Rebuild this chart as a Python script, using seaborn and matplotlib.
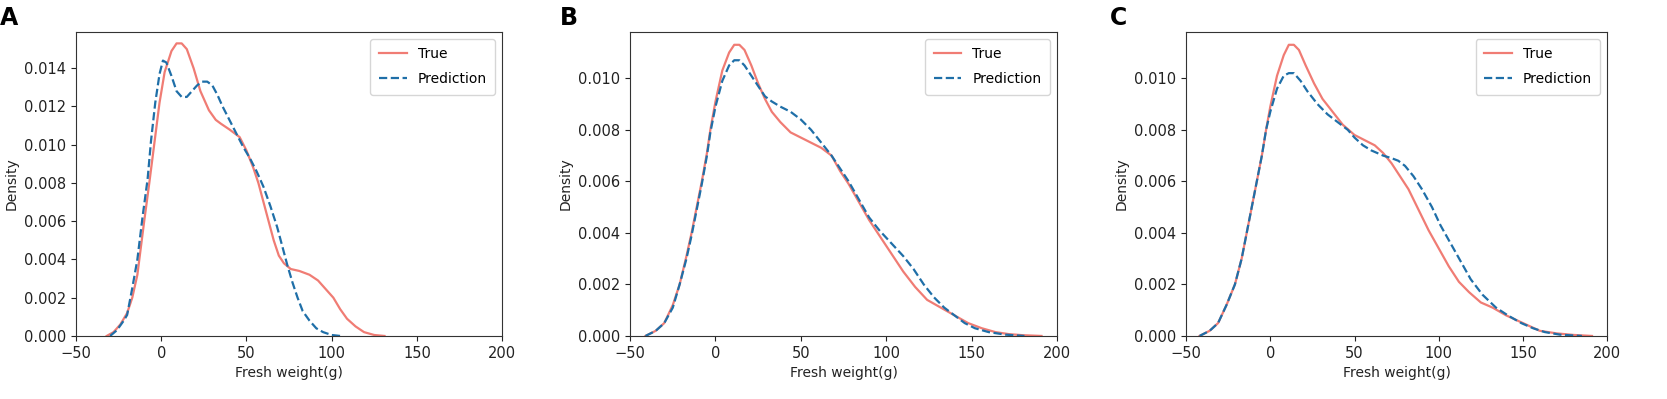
import pandas as pd
import matplotlib.pyplot as plt
import seaborn as sns

# density curves, x = fresh weight (g)
a_true_x = [-32, -28, -24, -20, -17, -14, -10, -7, -4, -1, 2, 6, 9, 12, 15, 19, 23, 28, 32, 35, 40, 46, 50, 54, 57, 60, 63, 66, 69, 72, 76, 81, 87, 92, 96, 101, 105, 109, 114, 119, 125, 131]
a_true_y = [0.0, 0.0002, 0.0006, 0.0012, 0.002, 0.0032, 0.006, 0.008, 0.0101, 0.0122, 0.0138, 0.0149, 0.0153, 0.0153, 0.0150, 0.0140, 0.0128, 0.0118, 0.0113, 0.0111, 0.0108, 0.0104, 0.0097, 0.0088, 0.0080, 0.0070, 0.0060, 0.0050, 0.0042, 0.0038, 0.0035, 0.0034, 0.0032, 0.0029, 0.0025, 0.0020, 0.0014, 0.0009, 0.0005, 0.0002, 0.00005, 0.0]
a_pred_x = [-30, -26, -22, -20, -17, -14, -11, -8, -6, -3.5, -1, 1, 3, 6, 9, 12, 15, 18, 21, 24, 27, 30, 33, 36, 40, 44, 48, 52, 56, 60, 64, 68, 71, 74, 77, 80, 83, 87, 91, 95, 100, 105]
a_pred_y = [0.0, 0.0003, 0.0008, 0.0011, 0.0025, 0.004, 0.0062, 0.0082, 0.0102, 0.0122, 0.0137, 0.0144, 0.0143, 0.0136, 0.0128, 0.0125, 0.0125, 0.0128, 0.0131, 0.0133, 0.0133, 0.0131, 0.0126, 0.0120, 0.0113, 0.0106, 0.0099, 0.0093, 0.0086, 0.0078, 0.0068, 0.0057, 0.0047, 0.0037, 0.0028, 0.0020, 0.0013, 0.0008, 0.0004, 0.0002, 0.00005, 0.0]

b_true_x = [-41, -35, -30, -25, -21, -17, -14, -11, -8, -5, -3, 0, 4, 8, 11, 14, 17, 21, 25, 29, 33, 38, 44, 50, 56, 62, 68, 73, 78, 84, 90, 96, 103, 110, 117, 124, 132, 140, 148, 156, 164, 172, 180, 191]
b_true_y = [0.0, 0.0002, 0.0005, 0.0012, 0.002, 0.0031, 0.004, 0.005, 0.006, 0.0071, 0.008, 0.0091, 0.0103, 0.0110, 0.0113, 0.0113, 0.0111, 0.0105, 0.0098, 0.0092, 0.0087, 0.0083, 0.0079, 0.0077, 0.0075, 0.0073, 0.0070, 0.0064, 0.0059, 0.0052, 0.0045, 0.0039, 0.0032, 0.0025, 0.0019, 0.0014, 0.0011, 0.0008, 0.0005, 0.0003, 0.00015, 0.00007, 0.00003, 0.0]
b_pred_x = [-41, -35, -30, -25, -21, -17, -14, -11, -8, -5, -3, 0, 4, 8, 11, 14, 17, 21, 25, 29, 33, 38, 44, 50, 56, 62, 68, 73, 78, 84, 90, 96, 103, 110, 116, 122, 128, 134, 140, 146, 152, 160, 170, 181]
b_pred_y = [0.0, 0.0002, 0.0005, 0.0011, 0.002, 0.003, 0.0039, 0.0049, 0.0059, 0.007, 0.0079, 0.0089, 0.0099, 0.0105, 0.0107, 0.0107, 0.0105, 0.0101, 0.0097, 0.0093, 0.0091, 0.0089, 0.0087, 0.0084, 0.0080, 0.0075, 0.0070, 0.0065, 0.0060, 0.0053, 0.0046, 0.0041, 0.0036, 0.0031, 0.0026, 0.0020, 0.0015, 0.0011, 0.0008, 0.0005, 0.0003, 0.00015, 0.00005, 0.0]

c_true_x = [-42, -36, -31, -26, -21, -17, -14, -11, -8, -5, -2.5, 0, 4, 8, 11, 14, 17, 21, 26, 31, 37, 43, 50, 56, 62, 67, 72, 77, 82, 88, 94, 100, 106, 112, 118, 125, 132, 140, 150, 160, 170, 180, 191]
c_true_y = [0.0, 0.0002, 0.0005, 0.0012, 0.002, 0.003, 0.004, 0.005, 0.006, 0.007, 0.008, 0.0089, 0.0101, 0.0109, 0.0113, 0.0113, 0.0111, 0.0105, 0.0098, 0.0092, 0.0087, 0.0082, 0.0078, 0.0076, 0.0074, 0.0071, 0.0067, 0.0062, 0.0057, 0.0049, 0.0041, 0.0034, 0.0027, 0.0021, 0.0017, 0.0013, 0.0011, 0.0008, 0.0005, 0.0002, 0.0001, 0.00004, 0.0]
c_pred_x = [-42, -36, -31, -26, -21, -17, -14, -11, -8, -5, -2.5, 0, 4, 8, 11, 14, 18, 22, 28, 34, 40, 46, 50, 55, 60, 67, 72, 76, 80, 85, 90, 96, 101, 107, 113, 119, 126, 134, 141, 149, 156, 163, 172, 185]
c_pred_y = [0.0, 0.0002, 0.0005, 0.0012, 0.002, 0.003, 0.004, 0.005, 0.006, 0.007, 0.008, 0.0087, 0.0096, 0.0101, 0.0102, 0.0102, 0.0099, 0.0095, 0.0090, 0.0086, 0.0083, 0.0080, 0.0077, 0.0074, 0.0072, 0.0070, 0.0069, 0.0068, 0.0066, 0.0062, 0.0057, 0.0050, 0.0043, 0.0036, 0.0029, 0.0022, 0.0016, 0.0011, 0.0008, 0.0005, 0.0003, 0.00015, 0.00005, 0.0]

panels = [
    ('A', a_true_x, a_true_y, a_pred_x, a_pred_y, 0.0159),
    ('B', b_true_x, b_true_y, b_pred_x, b_pred_y, 0.0118),
    ('C', c_true_x, c_true_y, c_pred_x, c_pred_y, 0.0118),
]
# axes boxes in figure fractions (left, bottom, width, height)
boxes = [(0.0456, 0.158, 0.2556, 0.762),
         (0.378, 0.158, 0.256, 0.762),
         (0.7115, 0.158, 0.2526, 0.762)]
letter_x = [0.0, 0.336, 0.666]

plt.rcParams['font.family'] = ['DejaVu Sans']
fig = plt.figure(figsize=(16.67, 3.99), dpi=100)

for (name, tx, ty, px, py, ytop), box, lx in zip(panels, boxes, letter_x):
    ax = fig.add_axes(box)
    sns.lineplot(x=tx, y=ty, ax=ax, color='#f07c74', linewidth=1.6, label='True',
                 sort=False, estimator=None)
    sns.lineplot(x=px, y=py, ax=ax, color='#1f6fa8', linewidth=1.6, linestyle='--',
                 label='Prediction', sort=False, estimator=None)
    ax.set_xlim(-50, 200)
    ax.set_ylim(0, ytop)
    ax.set_xticks([-50, 0, 50, 100, 150, 200])
    ax.set_xlabel('Fresh weight(g)', fontsize=10, color='#222222')
    ax.set_ylabel('Density', fontsize=10, color='#222222')
    ax.tick_params(labelsize=10.5, colors='#222222')
    for sp in ax.spines.values():
        sp.set_color('#333333')
    ax.legend(loc='upper right', fontsize=10, handlelength=2.0, labelspacing=0.8,
              borderpad=0.6)
    fig.text(lx, 0.985, name, fontsize=17, fontweight='bold', va='top', ha='left')

fig.savefig('out.png', dpi=100)
